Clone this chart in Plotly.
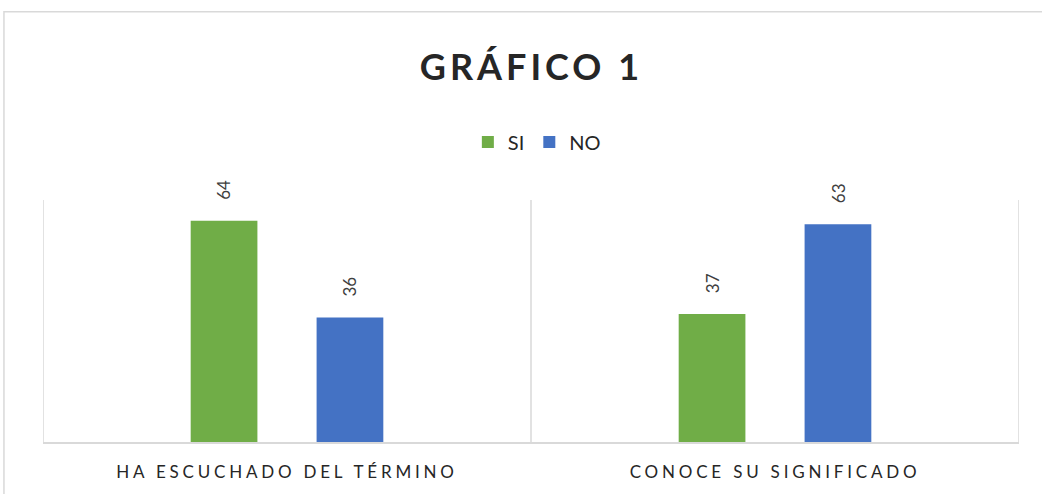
import plotly.graph_objects as go

categories = ["HA ESCUCHADO DEL TÉRMINO", "CONOCE SU SIGNIFICADO"]
si_values = [64, 37]
no_values = [36, 63]
series_names = ["SI", "NO"]
colors = ["#70AD47", "#4472C4"]
title_text = "GRÁFICO 1"

BARGAP = 0.484
BARGROUPGAP = 0.47
FONT = "Lato, 'Open Sans', sans-serif"
GRID = "#D9D9D9"

def spaced(s, px):
    return f'<span style="letter-spacing:{px}px">{s}</span>'

fig = go.Figure()
for name, vals, col in zip(series_names, [si_values, no_values], colors):
    fig.add_trace(go.Bar(
        name=name, x=list(range(len(categories))), y=vals,
        marker=dict(color=col, line=dict(width=0)),
    ))

# data labels (rotated) above each bar
n_series = 2
slot = (1 - BARGAP) / n_series
for si, vals in enumerate([si_values, no_values]):
    off = -(1 - BARGAP) / 2 + slot * (si + 0.5)
    for ci, v in enumerate(vals):
        fig.add_annotation(
            x=ci + off, y=v, text=str(v), textangle=-90, showarrow=False,
            xanchor="center", yanchor="bottom", yshift=19,
            font=dict(family=FONT, size=17, color="#404040"),
        )

# category separators
for b in [i - 0.5 for i in range(len(categories) + 1)]:
    fig.add_shape(type="line", xref="x", yref="paper", x0=b, x1=b, y0=0, y1=1,
                  line=dict(color=GRID, width=1.5), layer="below")

# chart outer border
fig.add_shape(type="rect", xref="paper", yref="paper",
              x0=-0.04, x1=1.03, y0=-0.25, y1=1.778,
              line=dict(color=GRID, width=1.5), fillcolor="rgba(0,0,0,0)", layer="below")

fig.update_layout(
    width=1042, height=494,
    margin=dict(l=43, r=23, t=200, b=52, pad=0),
    paper_bgcolor="white", plot_bgcolor="white",
    barmode="group", bargap=BARGAP, bargroupgap=BARGROUPGAP,
    title=dict(text=spaced(title_text, 4), x=0.51, xanchor="center", y=1 - 67/494, yanchor="middle",
               font=dict(family=FONT, size=36, color="#262626", weight="bold")),
    legend=dict(orientation="h", x=0.506, xanchor="center", y=1.24, yanchor="middle",
                font=dict(family=FONT, size=20, color="#262626"), itemwidth=30,
                bgcolor="rgba(0,0,0,0)", traceorder="normal"),
    showlegend=True,
    xaxis=dict(
        tickmode="array", tickvals=list(range(len(categories))),
        ticktext=[spaced(c, 3.8) for c in categories],
        range=[-0.5, len(categories) - 0.5],
        showgrid=False, zeroline=False, automargin=False,
        showline=True, linecolor=GRID, linewidth=1.5,
        ticks="", ticklabelstandoff=14,
        tickfont=dict(family=FONT, size=17, color="#262626"),
    ),
    yaxis=dict(range=[0, 70], visible=False, showgrid=False, zeroline=False, automargin=False),
)

fig.write_html("out.html", config={"displayModeBar": False},
               post_script="document.body.style.margin='0';")
